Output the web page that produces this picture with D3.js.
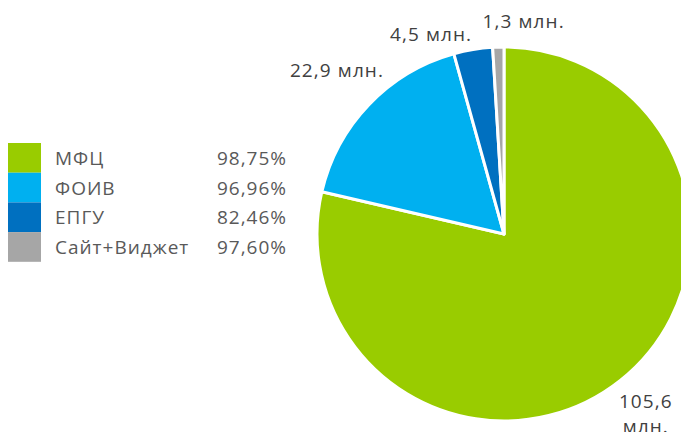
<!DOCTYPE html>
<html>
<head>
<meta charset="utf-8">
<script src="https://cdn.jsdelivr.net/npm/d3@7/dist/d3.min.js"></script>
<style>
  body { margin: 0; background: #fff; }
  svg { display: block; font-family: "Open Sans", sans-serif; }
</style>
</head>
<body>
<div id="chart"></div>
<script>
// Channels and their volumes (млн.) plus quality share shown in legend
const categories = ["МФЦ", "ФОИВ", "ЕПГУ", "Сайт+Виджет"];
const volumes = [105.6, 22.9, 4.5, 1.3];
const shares = ["98,75%", "96,96%", "82,46%", "97,60%"];
const colors = ["#99cc00", "#00b0f0", "#0070c0", "#a6a6a6"];

const width = 681, height = 432;
const cx = 504, cy = 234, radius = 187;
// label placement: angular nudge (degrees) and distance from centre
const labelNudge = [0, 0.7, -10.5, 7];
const labelDist = [228, 234, 213, 214];

const svg = d3.select("#chart").append("svg")
  .attr("width", width)
  .attr("height", height);

const data = categories.map((c, i) => ({
  name: c, value: volumes[i], share: shares[i], color: colors[i],
  nudge: labelNudge[i], dist: labelDist[i]
}));

const pie = d3.pie().value(d => d.value).sort(null);
const arcs = pie(data);

const arc = d3.arc().innerRadius(0).outerRadius(radius);

const g = svg.append("g").attr("transform", `translate(${cx},${cy})`);

g.selectAll("path.slice")
  .data(arcs)
  .join("path")
  .attr("class", "slice")
  .attr("d", arc)
  .attr("fill", d => d.data.color)
  .attr("stroke", "#fff")
  .attr("stroke-width", 3)
  .attr("stroke-linejoin", "round");

// Data labels outside the pie
const fmt = v => String(v).replace(".", ",");

g.selectAll("text.lbl")
  .data(arcs)
  .join("text")
  .attr("class", "lbl")
  .attr("text-anchor", "middle")
  .attr("font-size", 19)
  .attr("letter-spacing", 1.1)
  .attr("fill", "#404040")
  .each(function (d) {
    const a = (d.startAngle + d.endAngle) / 2 + d.data.nudge * Math.PI / 180;
    const x = d.data.dist * Math.sin(a);
    const y = -d.data.dist * Math.cos(a);
    const t = d3.select(this);
    t.text(fmt(d.data.value) + " млн.");
    const w = this.getComputedTextLength();
    // wrap onto two lines if it would run off the right edge
    if (cx + x + w / 2 > width - 4) {
      t.text(null);
      t.append("tspan").attr("x", x).attr("y", y - 5).text(fmt(d.data.value));
      t.append("tspan").attr("x", x).attr("y", y + 20).text("млн.");
    } else {
      t.attr("x", x).attr("y", y + 7);
    }
  });

// Legend
const legend = svg.append("g").attr("transform", "translate(8,143)");
const rowH = 29.7;

const rows = legend.selectAll("g.row")
  .data(data)
  .join("g")
  .attr("class", "row")
  .attr("transform", (d, i) => `translate(0,${i * rowH})`);

rows.append("rect")
  .attr("width", 33)
  .attr("height", rowH)
  .attr("fill", d => d.color);

rows.append("text")
  .attr("x", 47)
  .attr("y", rowH / 2 + 7)
  .attr("font-size", 19)
  .attr("letter-spacing", 1)
  .attr("fill", "#595959")
  .text(d => d.name);

rows.append("text")
  .attr("x", 279)
  .attr("y", rowH / 2 + 7)
  .attr("text-anchor", "end")
  .attr("font-size", 19)
  .attr("letter-spacing", 1)
  .attr("fill", "#595959")
  .text(d => d.share);
</script>
</body>
</html>
